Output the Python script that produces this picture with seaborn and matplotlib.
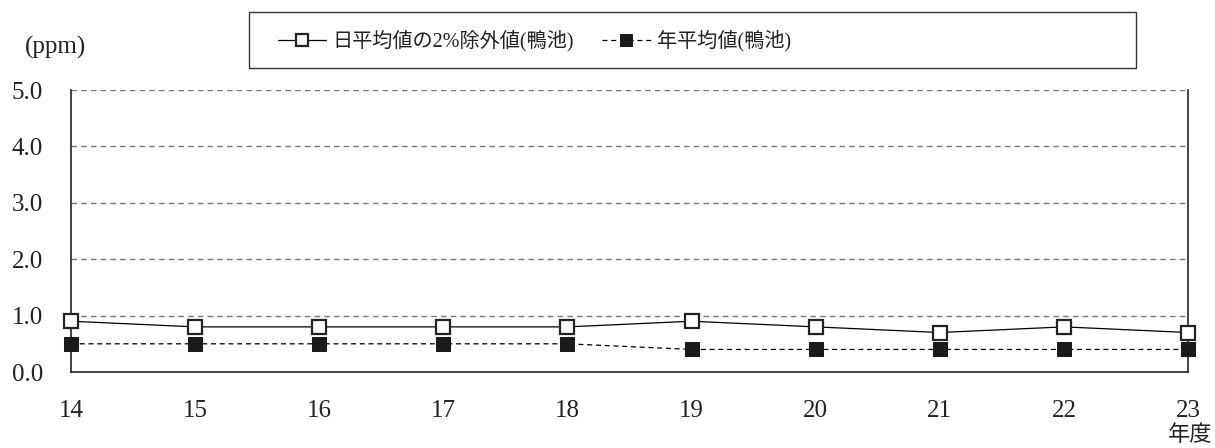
import matplotlib
matplotlib.use("Agg")
import matplotlib.pyplot as plt
import matplotlib.patches as mpatches
import pandas as pd
import seaborn as sns

# data
years = [14, 15, 16, 17, 18, 19, 20, 21, 22, 23]
daily_2pct = [0.9, 0.8, 0.8, 0.8, 0.8, 0.9, 0.8, 0.7, 0.8, 0.7]
annual_mean = [0.5, 0.5, 0.5, 0.5, 0.5, 0.4, 0.4, 0.4, 0.4, 0.4]
label_daily = "日平均値の2%除外値(鴨池)"
label_annual = "年平均値(鴨池)"
y_ticks = [0.0, 1.0, 2.0, 3.0, 4.0, 5.0]

sns.set_style("white")
plt.rcParams["font.family"] = ["Liberation Serif", "Noto Sans CJK JP", "DejaVu Sans"]

df = pd.DataFrame({"year": years, "daily": daily_2pct, "annual": annual_mean})

fig = plt.figure(figsize=(12.15, 4.48), dpi=100)
ax = fig.add_axes([71 / 1215, 1 - 372 / 448, (1188 - 71) / 1215, (372 - 90) / 448])

# horizontal dashed grid
for yv in y_ticks[1:]:
    ax.axhline(yv, color="#777777", lw=1.0, ls=(0, (4, 3)), zorder=1)

sns.lineplot(
    data=df, x="year", y="annual", ax=ax, color="black", lw=0.9,
    linestyle=(0, (4, 3)), marker="s", markersize=10, markerfacecolor="#1a1a1a",
    markeredgecolor="#1a1a1a", label=label_annual, clip_on=False, zorder=3,
)
sns.lineplot(
    data=df, x="year", y="daily", ax=ax, color="black", lw=0.9,
    marker="s", markersize=10, markerfacecolor="white", markeredgecolor="#222222",
    markeredgewidth=1.6, label=label_daily, clip_on=False, zorder=4,
)

ax.set_xlim(14, 23)
ax.set_ylim(0, 5)
ax.set_xticks(years)
ax.set_xticklabels([str(y) for y in years])
ax.set_yticks(y_ticks)
ax.set_yticklabels([f"{v:.1f}" for v in y_ticks])
ax.set_xlabel("")
ax.set_ylabel("")
ax.tick_params(axis="x", direction="in", length=9, width=1, color="#222222",
               labelsize=18, pad=20, labelcolor="#222222")
ax.tick_params(axis="y", length=0, labelsize=18, pad=20, labelcolor="#222222")

for side in ["left", "bottom", "right"]:
    ax.spines[side].set_color("#222222")
    ax.spines[side].set_linewidth(1.2)
ax.spines["top"].set_visible(False)

fig.text(56 / 1215, 1 - 47 / 448, "(ppm)", ha="center", va="center",
         fontsize=18, color="#222222")
fig.text(1190 / 1215, 1 - 436 / 448, "年度", ha="center", va="center",
         fontsize=16, color="#222222")

# legend, daily series first
handles, labels = ax.get_legend_handles_labels()
order = [labels.index(label_daily), labels.index(label_annual)]
leg = ax.legend(
    [handles[i] for i in order], [labels[i] for i in order],
    ncol=2, frameon=False, loc="center left",
    bbox_to_anchor=(260 / 1215, 1 - 41 / 448), bbox_transform=fig.transFigure,
    fontsize=14.5, handlelength=2.4, handletextpad=0.3, columnspacing=1.4,
    markerscale=0.8, labelcolor="#222222",
)
fig.patches.append(mpatches.Rectangle(
    (249 / 1215, 1 - 68 / 448), (1136 - 249) / 1215, (68 - 12) / 448,
    transform=fig.transFigure, fill=False, edgecolor="#333333", lw=1.0,
))

fig.savefig("out.png", dpi=100)
